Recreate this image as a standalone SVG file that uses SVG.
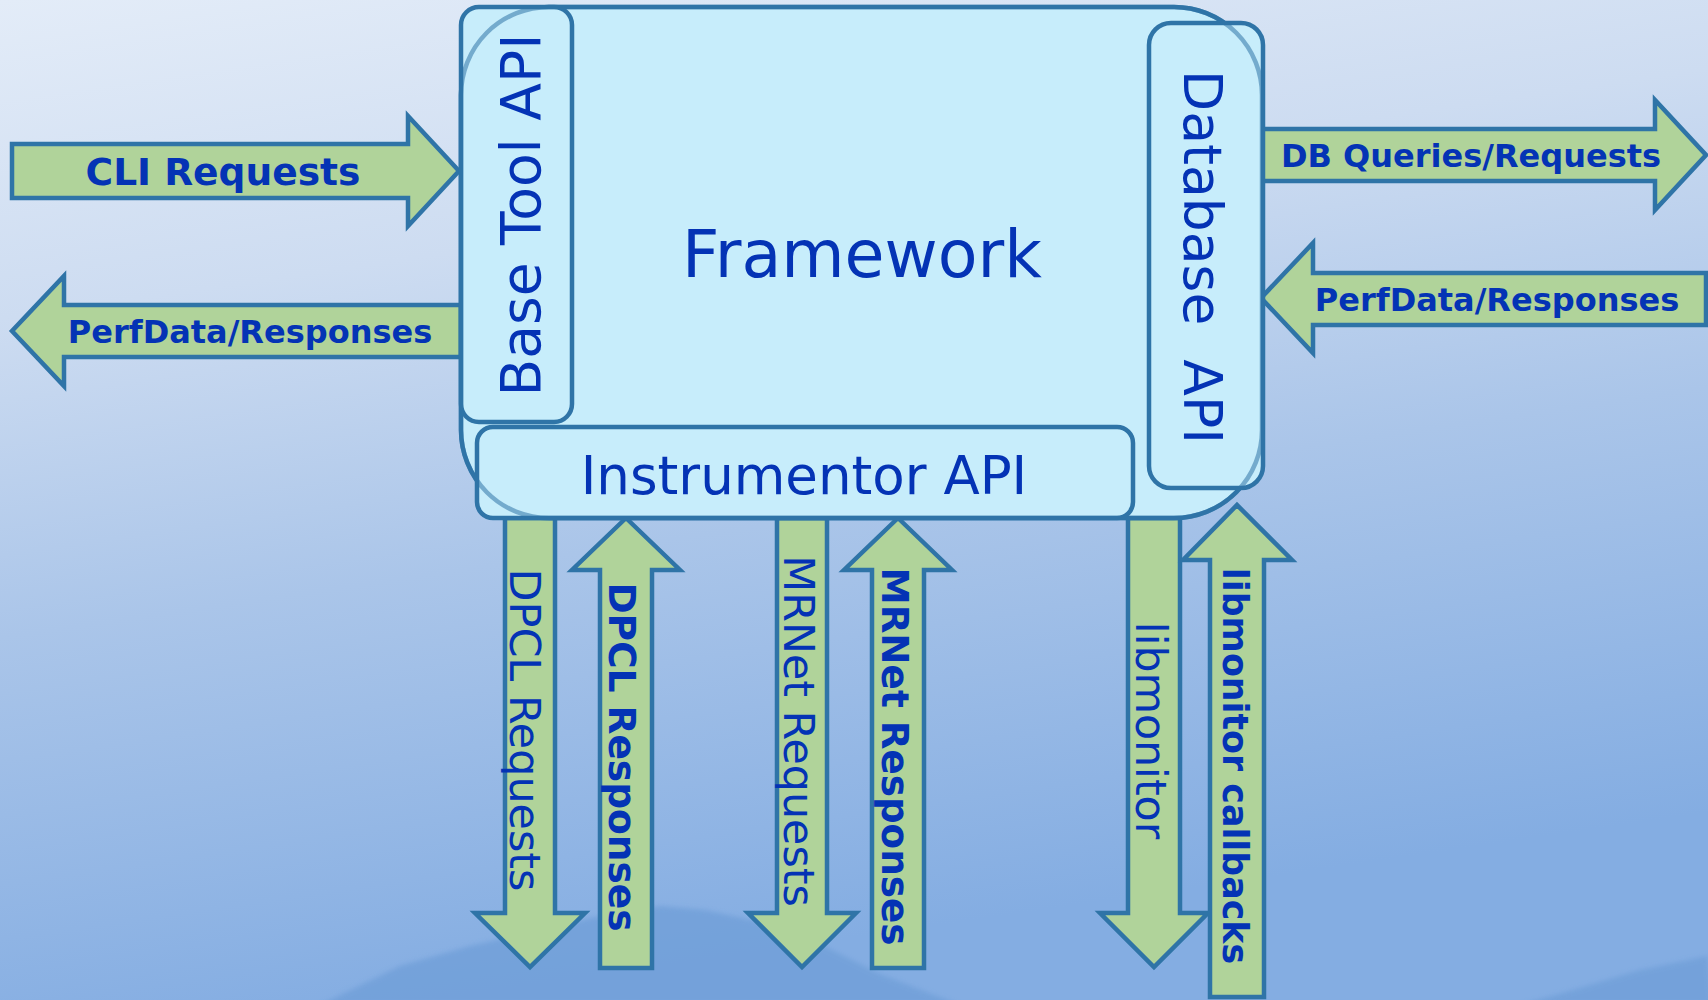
<svg xmlns="http://www.w3.org/2000/svg" width="1708" height="1000" viewBox="0 0 1708 1000">
  <defs>
    <linearGradient id="sky" x1="0" y1="0" x2="0.25" y2="1">
      <stop offset="0" stop-color="#e3ecf8"/>
      <stop offset="0.3" stop-color="#cddcf1"/>
      <stop offset="0.6" stop-color="#aac5e9"/>
      <stop offset="1" stop-color="#84ade2"/>
    </linearGradient>
    <filter id="soft" x="-10%" y="-10%" width="120%" height="120%">
      <feGaussianBlur stdDeviation="2.5"/>
    </filter>
    <style>
      .arrow { fill: #b0d39a; stroke: #2f74a7; stroke-width: 4.5; stroke-linejoin: miter; }
      .box { fill: #c7edfb; stroke: #2f74a7; stroke-width: 4.5; }
      .ring { fill: none; stroke: #2f74a7; stroke-width: 4.5; stroke-opacity: 0.55; }
      text { font-family: "DejaVu Sans", "Liberation Sans", sans-serif; fill: #0433b5; }
      .lbl { font-weight: bold; }
      .mid { text-anchor: middle; }
    </style>
  </defs>

  <!-- backdrop: sky and distant hills -->
  <rect x="0" y="0" width="1708" height="1000" fill="url(#sky)"/>
  <g filter="url(#soft)" fill="#72a0d9" opacity="0.85">
    <path d="M320,1005 L400,966 L470,946 L540,930 L600,916 L660,906 L705,910 L760,922 L820,944 L880,974 L960,1005 Z"/>
    <path d="M1520,1005 L1580,988 L1640,970 L1708,956 L1712,1005 Z"/>
  </g>

  <!-- connectors -->
  <g id="connectors">
    <polygon id="cli-requests" class="arrow" points="12,144 408,144 408,116 459,171 408,226 408,198 12,198"/>
    <polygon id="tool-responses" class="arrow" points="461,305 64,305 64,276 12,331 64,386 64,357 461,357"/>
    <polygon id="db-queries" class="arrow" points="1262,129 1655,129 1655,100 1706,155 1655,210 1655,181 1262,181"/>
    <polygon id="db-responses" class="arrow" points="1706,273 1313,273 1313,243 1261,298 1313,353 1313,325 1706,325"/>
    <polygon id="dpcl-requests" class="arrow" points="505,518 555,518 555,913 585,913 530,967 475,913 505,913"/>
    <polygon id="dpcl-responses" class="arrow" points="600,968 600,570 572,570 626,518 680,570 652,570 652,968"/>
    <polygon id="mrnet-requests" class="arrow" points="777,518 827,518 827,913 856,913 802,967 748,913 777,913"/>
    <polygon id="mrnet-responses" class="arrow" points="872,968 872,570 844,570 898,518 952,570 924,570 924,968"/>
    <polygon id="libmonitor" class="arrow" points="1128,518 1180,518 1180,913 1208,913 1154,967 1100,913 1128,913"/>
    <polygon id="libmonitor-callbacks" class="arrow" points="1210,997 1210,560 1183,560 1237,505 1292,560 1264,560 1264,997"/>
  </g>

  <!-- framework and its API boxes -->
  <g id="framework">
    <rect class="box" x="461" y="7" width="801" height="511" rx="88" ry="88"/>
  </g>
  <g id="base-tool-api">
    <rect class="box" x="461" y="7" width="111" height="415" rx="18" ry="18"/>
  </g>
  <g id="database-api">
    <rect class="box" x="1149" y="23" width="114" height="465" rx="22" ry="22"/>
  </g>
  <g id="instrumentor-api">
    <rect class="box" x="477" y="427" width="656" height="91" rx="16" ry="16"/>
  </g>
  <!-- framework outline seen through the API boxes -->
  <rect class="ring" x="461" y="7" width="801" height="511" rx="88" ry="88"/>

  <!-- box titles -->
  <text class="mid" x="862" y="277" font-size="65">Framework</text>
  <text class="mid" x="804" y="494" font-size="53">Instrumentor API</text>
  <text class="mid" transform="translate(540,215) rotate(-90)" font-size="55">Base Tool API</text>
  <text class="mid" transform="translate(1184,257) rotate(90)" font-size="53.5" xml:space="preserve">Database  API</text>

  <!-- connector labels -->
  <text class="lbl mid" x="223" y="185" font-size="37.6">CLI Requests</text>
  <text class="lbl mid" x="250" y="343" font-size="32">PerfData/Responses</text>
  <text class="lbl mid" x="1471" y="167" font-size="32">DB Queries/Requests</text>
  <text class="lbl mid" x="1497" y="311" font-size="32">PerfData/Responses</text>

  <text class="mid" transform="translate(510,730) rotate(90)" font-size="42.9">DPCL Requests</text>
  <text class="lbl mid" transform="translate(609,757) rotate(90)" font-size="37.5">DPCL Responses</text>
  <text class="mid" transform="translate(784,731) rotate(90)" font-size="42.8">MRNet Requests</text>
  <text class="lbl mid" transform="translate(882,756.5) rotate(90)" font-size="37.3">MRNet Responses</text>
  <text class="mid" transform="translate(1136,730.5) rotate(90)" font-size="42.6">libmonitor</text>
  <text class="lbl mid" transform="translate(1223,766) rotate(90)" font-size="34.8">libmonitor callbacks</text>
</svg>
